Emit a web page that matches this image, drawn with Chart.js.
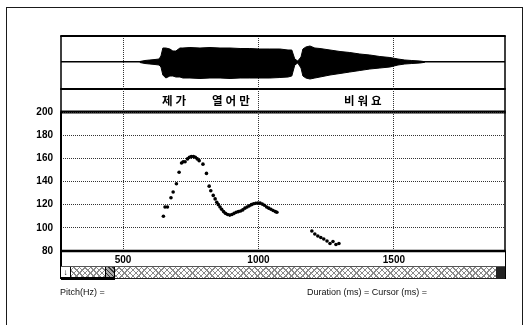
<!DOCTYPE html>
<html><head><meta charset="utf-8">
<script src="https://cdn.jsdelivr.net/npm/chart.js@4"></script>
<style>
html,body{margin:0;padding:0;background:#fff;}
#wrap{position:relative;width:529px;height:325px;overflow:hidden;font-family:"Liberation Sans",Arial,sans-serif;background:#fff;}
canvas{position:absolute;left:0;top:0;}
.frame{position:absolute;left:6px;top:7px;width:517px;height:340px;border:1.5px solid #1a1a1a;box-sizing:border-box;}
#tickbox{position:absolute;left:60px;top:251px;width:446px;height:28px;border-left:2px solid #000;border-right:1.5px solid #000;box-sizing:border-box;}
#scroll{position:absolute;left:61px;top:266px;width:444px;height:13px;box-sizing:border-box;border-top:1px solid #555;border-bottom:1.5px solid #222;
 background:repeating-linear-gradient(45deg,#8a8a8a 0 1px,transparent 1px 4px),repeating-linear-gradient(-45deg,#8a8a8a 0 1px,#fff 1px 4px);}
#btnL{position:absolute;left:0;top:0;width:10px;height:100%;background:#fff;border-right:1px solid #000;box-sizing:border-box;font-size:8px;line-height:11px;text-align:center;font-weight:bold;}
#thumb{position:absolute;left:44px;top:0;width:10px;height:100%;background:repeating-linear-gradient(45deg,#333 0 1px,#aaa 1px 3px);border-left:1.5px solid #000;border-right:1px solid #000;box-sizing:border-box;}
#btnR{position:absolute;right:0;top:0;width:9px;height:100%;background:#222;}
#thick{position:absolute;left:61px;top:277px;width:54px;height:3px;background:#000;}
.lab{position:absolute;font-size:9px;color:#111;white-space:nowrap;}
</style></head><body>
<div id="wrap">
<div class="frame"></div>
<canvas id="cw" width="529" height="325"></canvas>
<canvas id="ct" width="529" height="325"></canvas>
<canvas id="cp" width="529" height="325"></canvas>
<div id="tickbox"></div>
<div id="scroll"><div id="btnL">&#8595;</div><div id="thumb"></div><div id="btnR"></div></div>
<div id="thick"></div>
<div class="lab" style="left:60px;top:287px;">Pitch(Hz) =</div>
<div class="lab" style="left:307px;top:287px;">Duration (ms) = Cursor (ms) =</div>
</div>
<script>
// ---- data ----
const xTickValues = [500, 1000, 1500];
const yTickValues = [80, 100, 120, 140, 160, 180, 200];
const syllableLabels = ['제가', '열어만', '비워요'];
const syllableTimes = [688, 898, 1385];

const pitchTimes1 = [649,655,664,677,685,697,707,716,722,729,738,745,752,760,767,774,781,795,808,818,824,833,840,846,852,858,864,871,878,886,894,902,910,918,926,934,942,950,958,966,974,982,990,998,1006,1014,1022,1030,1038,1046,1054,1062,1068];
const pitchHz1 =    [110,118,118,126,131,138,148,156,157,157,159.5,161,161.5,161.5,161,159.5,158,155,147,136,132,128,125,122,120,118,116,114,112.5,111.5,111,111.5,112.5,113.5,114,114.5,115.5,117,118,119,120,120.8,121.2,121.5,121.3,120.5,119.5,118,117,116,115,114,113.5];
const pitchTimes2 = [1197,1208,1219,1230,1241,1253,1264,1275,1286,1297];
const pitchHz2 =    [97.3,94.7,93,91.7,90.4,88.6,86.5,88.2,85.6,86.5];

const waveTimes = [562,581,599,618,633,640,647,658,673,684,695,710,721,747,784,821,858,895,932,968,1005,1042,1079,1109,1123,1134,1145,1157,1164,1175,1190,1208,1227,1264,1301,1337,1374,1411,1448,1485,1515,1540,1566,1596,1614];
const waveUpper = [0.5,1.5,2,2.5,3,6,14,14,13,11,11,14,14,14.5,14,14.5,14,14,13.5,13.5,13,13,13,12,12,3,1,5,13,15,16,14,13.5,12,10.5,9.5,8,7,5.5,4.5,3,2,1.5,1,0.3];
const waveLower = [0.5,1.5,2,2.5,3,5,13,16,14,14,15,15,16,16,16.5,16,16,16.5,16,16,16,16,15.5,15,14,3,1,6,14,16,17,16,15,13,11.5,10,8.5,7,6,5,3,2,1.5,1,0.3];

// ---- layout constants ----
const X_MIN = 271, X_MAX = 1910;
const FONT = '"Liberation Sans", Arial, sans-serif';

function xs(dashed){
  return {type:'linear', min:X_MIN, max:X_MAX,
    afterBuildTicks:s=>{s.ticks = xTickValues.map(v=>({value:v}));},
    grid:{color:'#333', lineWidth:1, drawTicks:false},
    border:{display:false, dash: dashed ? [1,1] : undefined},
    ticks:{display:false},
    afterFit:s=>{s.height=0;}};
}
function sideRects(ctx, a, w){
  ctx.save(); ctx.fillStyle='#000';
  if (w.top) ctx.fillRect(a.left - (w.left||0)/2, a.top - w.top/2, a.right - a.left + ((w.left||0)+(w.right||0))/2, w.top);
  if (w.bottom) ctx.fillRect(a.left - (w.left||0)/2, a.bottom - w.bottom/2, a.right - a.left + ((w.left||0)+(w.right||0))/2, w.bottom);
  if (w.left) ctx.fillRect(a.left - w.left/2, a.top, w.left, a.bottom - a.top);
  if (w.right) ctx.fillRect(a.right - w.right/2, a.top, w.right, a.bottom - a.top);
  ctx.restore();
}
const common = {responsive:false, animation:false, events:[], plugins:{legend:{display:false}, tooltip:{enabled:false}}};

// ---- waveform ----
new Chart(document.getElementById('cw'), {
  type:'line',
  data:{datasets:[
    {data: waveTimes.map((t,i)=>({x:t, y:waveUpper[i]})), borderColor:'#000', backgroundColor:'#000', borderWidth:1, pointRadius:0, fill:'+1', tension:0},
    {data: waveTimes.map((t,i)=>({x:t, y:-waveLower[i]})), borderColor:'#000', backgroundColor:'#000', borderWidth:1, pointRadius:0, fill:false, tension:0}
  ]},
  options:Object.assign({}, common, {
    layout:{padding:{left:61, top:36, right:24, bottom:236}},
    scales:{
      x: xs(true),
      y:{min:-27, max:26, afterBuildTicks:s=>{s.ticks=[{value:0}];}, grid:{color:'#000', lineWidth:1.5, drawTicks:false}, border:{display:false}, ticks:{display:false}, afterFit:s=>{s.width=0;}}
    }
  }),
  plugins:[{id:'wf', afterDraw(c){ sideRects(c.ctx, c.chartArea, {top:2, bottom:2, left:1.5, right:1.5}); }}]
});

// ---- syllable panel ----
new Chart(document.getElementById('ct'), {
  type:'line',
  data:{datasets:[]},
  options:Object.assign({}, common, {
    layout:{padding:{left:61, top:89, right:24, bottom:213}},
    scales:{ x: xs(true), y:{display:false, min:0, max:1} }
  }),
  plugins:[{id:'tf', afterDraw(c){
    const ctx=c.ctx, sx=c.scales.x, a=c.chartArea;
    ctx.save();
    ctx.fillStyle='#000';
    ctx.font='bold 11.5px "Noto Sans CJK KR", sans-serif';
    ctx.textAlign='center'; ctx.textBaseline='middle';
    try{ ctx.letterSpacing='3px'; }catch(e){}
    syllableLabels.forEach((t,i)=>ctx.fillText(t, sx.getPixelForValue(syllableTimes[i]) + 1.5, (a.top+a.bottom)/2 + 0.5));
    ctx.restore();
    sideRects(ctx, a, {left:1.5, right:1.5, bottom:3});
  }}]
});

// ---- pitch ----
const pts1 = pitchTimes1.map((t,i)=>({x:t, y:pitchHz1[i]}));
const pts2 = pitchTimes2.map((t,i)=>({x:t, y:pitchHz2[i]}));
new Chart(document.getElementById('cp'), {
  type:'scatter',
  data:{datasets:[
    {data:pts1, pointRadius:1.8, pointBackgroundColor:'#000', pointBorderWidth:0, showLine:false},
    {data:pts2, pointRadius:1.8, pointBackgroundColor:'#000', pointBorderWidth:0, showLine:false}
  ]},
  options:Object.assign({}, common, {
    layout:{padding:{left:0, top:112, right:24, bottom:60}},
    scales:{
      x:{type:'linear', min:X_MIN, max:X_MAX,
        afterBuildTicks:s=>{s.ticks = xTickValues.map(v=>({value:v}));},
        grid:{color:'#333', lineWidth:1, drawTicks:false},
        border:{display:false, dash:[1,1]},
        ticks:{color:'#000', padding:3, maxRotation:0, autoSkip:false, font:{family:FONT, size:10, weight:'bold'}, callback:v=>String(v)},
        afterFit:s=>{s.height=14;}},
      y:{type:'linear', min:80, max:200,
        afterBuildTicks:s=>{s.ticks = yTickValues.map(v=>({value:v}));},
        grid:{color:'#333', lineWidth:1, drawTicks:false},
        border:{display:false, dash:[1,1]},
        ticks:{color:'#000', padding:8, autoSkip:false, font:{family:FONT, size:10, weight:'bold'}, callback:v=>String(v)},
        afterFit:s=>{s.width=61;}}
    }
  }),
  plugins:[{id:'pf', afterDraw(c){ sideRects(c.ctx, c.chartArea, {left:2, right:1.5, bottom:2.5}); }}]
});
</script>
</body></html>
